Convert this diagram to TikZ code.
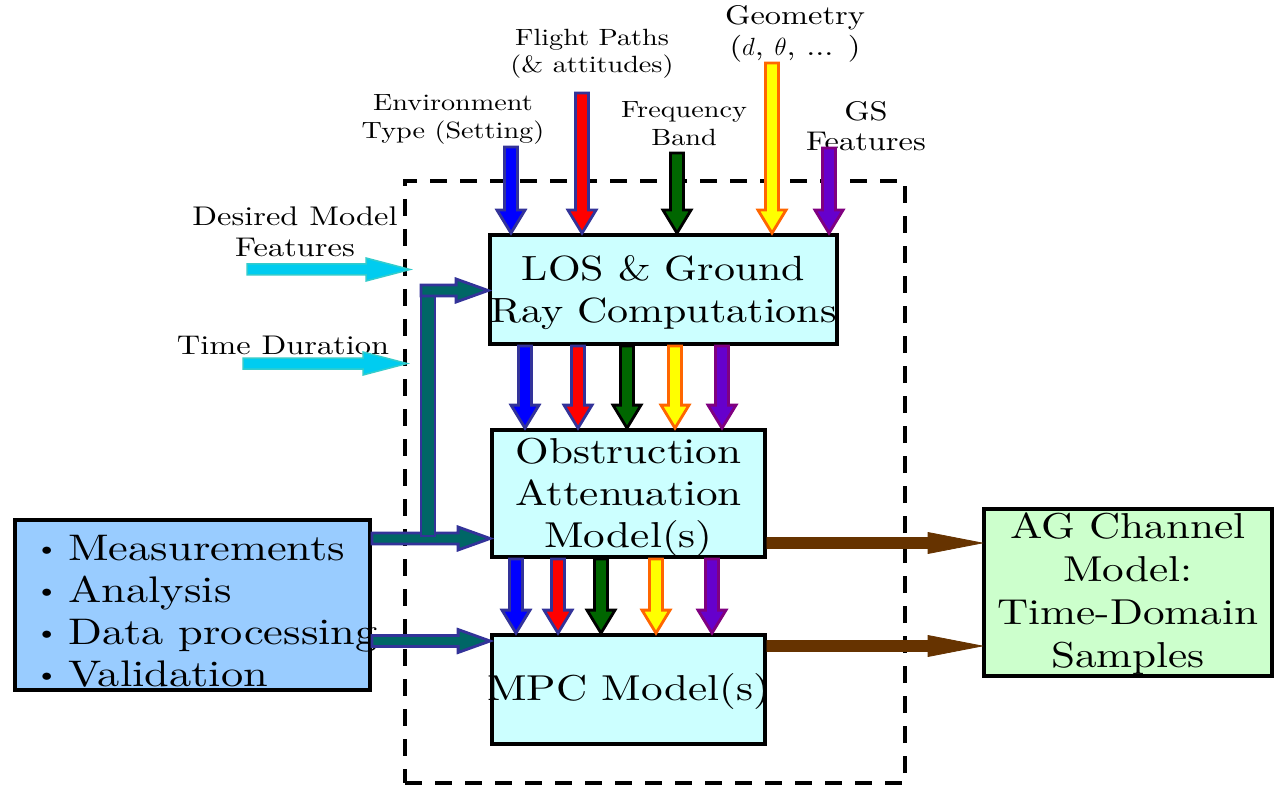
\documentclass[tikz,border=0pt]{standalone}
\usepackage{fontspec}
\setmainfont{lmroman10-regular.otf}[FakeStretch=1.2, ItalicFont=lmroman10-italic.otf]
\usetikzlibrary{calc}
\definecolor{navyb}{HTML}{333399}
\definecolor{boxcyan}{HTML}{CCFFFF}
\definecolor{boxblue}{HTML}{99CCFF}
\definecolor{boxgreen}{HTML}{CCFFCC}
\definecolor{arrblue}{HTML}{0000FF}
\definecolor{arrred}{HTML}{FF0000}
\definecolor{arrgreen}{HTML}{006600}
\definecolor{arryellow}{HTML}{FFFF00}
\definecolor{arrorange}{HTML}{FF6600}
\definecolor{arrpurple}{HTML}{6600CC}
\definecolor{arrpurpleb}{HTML}{800080}
\definecolor{arrcyan}{HTML}{00CCF0}
\definecolor{arrcyanb}{HTML}{33CCCC}
\definecolor{arrteal}{HTML}{006666}
\definecolor{arrbrown}{HTML}{663300}
\newcommand{\mybul}{\makebox[33pt][l]{\raisebox{4pt}{\fontsize{25}{25}\selectfont\textbullet}}}
\tikzset{
  blockarrow/.style n args={3}{line join=miter, to path={
    let \p1=(\tikztostart), \p2=(\tikztotarget), \n1={atan2(\y2-\y1,\x2-\x1)} in
    ($(\p1)+(\n1+90:#1)$) -- ($(\p2)+(\n1+180:#3)+(\n1+90:#1)$)
    -- ($(\p2)+(\n1+180:#3)+(\n1+90:#2)$) -- (\p2)
    -- ($(\p2)+(\n1+180:#3)+(\n1-90:#2)$) -- ($(\p2)+(\n1+180:#3)+(\n1-90:#1)$)
    -- ($(\p1)+(\n1-90:#1)$) -- cycle}},
  toparr/.style 2 args={blockarrow={6.5}{14}{23}, fill=#1, draw=#2, line width=2.8pt},
  cyanarr/.style={blockarrow={5.5}{11.5}{44}, fill=arrcyan, draw=arrcyanb, line width=1.5pt},
  tealarr/.style={blockarrow={5.5}{11.5}{32}, fill=arrteal, draw=navyb, line width=2.8pt},
  brownarr/.style={blockarrow={5.5}{10.5}{54}, fill=arrbrown, draw=arrbrown, line width=0.8pt},
  box/.style={draw=black, line width=3.8pt, fill=boxcyan, inner sep=0pt},
  boxtxt/.style={inner sep=0pt, align=center, font=\fontsize{36}{42}\selectfont},
  frame/.style={draw=black, line width=4pt, dash pattern=on 17pt off 13pt, inner sep=0pt,
    minimum width=500, minimum height=602},
  lbl/.style={inner sep=0pt, align=center, font=\fontsize{23.5}{27.5}\selectfont},
  lblbig/.style={inner sep=0pt, align=center, font=\fontsize{27}{30.5}\selectfont},
  bar/.style={fill=arrteal, draw=navyb, line width=2.8pt}
}
\begin{document}
\begin{tikzpicture}[x=1pt,y=1pt]
\useasboundingbox (0,0) rectangle (1276,-791);
\fill[white] (0,0) rectangle (1276,-791);

% dashed frame
\node[frame] (grp) at (655,-482) {};

% boxes
\node[box, minimum width=347, minimum height=109] (los) at (663.5,-289.5) {};
\node[boxtxt, font=\fontsize{35}{42}\selectfont] (losT) at ($(los.center)+(0,-3)$) {LOS \& Ground\\Ray Computations};
\node[box, minimum width=273, minimum height=127] (obs) at (628.5,-493.5) {};
\node[boxtxt] (obsT) at ($(obs.center)+(0,-4)$) {Obstruction\\Attenuation\\Model(s)};
\node[box, minimum width=273, minimum height=109] (mpc) at (628.5,-689.5) {};
\node[boxtxt] (mpcT) at ($(mpc.center)+(0,-2)$) {MPC Model(s)};
\node[box, fill=boxblue, minimum width=355, minimum height=170] (lb) at (192.5,-605) {};
\node[anchor=west, inner sep=0pt, align=left, font=\fontsize{37}{42}\selectfont] (lbt) at (35,-611)
  {\mybul Measurements\\\mybul Analysis\\\mybul Data processing\\\mybul Validation};
\node[box, fill=boxgreen, minimum width=288, minimum height=167] (ag) at (1128,-592.5) {};
\node[boxtxt, font=\fontsize{36}{43}\selectfont] (agT) at ($(ag.center)+(0,-1)$) {AG Channel\\Model:\\Time-Domain\\Samples};

% labels
\node[lbl] (env) at (453,-119.5) {Environment\\Type (Setting)};
\node[lbl] (fl) at (592,-54) {Flight Paths\\(\& attitudes)};
\node[lbl] (fq) at (684,-123.5) {Frequency\\Band};
\node[lblbig] (geo) at (795,-34) {Geometry\\($d$, $\theta$, ... )};
\node[lblbig] (gsf) at (866,-126) {GS\\Features};
\node[lblbig] (dmf) at (295,-232) {Desired Model\\Features};
\node[lblbig] (tdur) at (283,-345) {Time Duration};

% coordinates
\coordinate (envS) at (511,-147);
\coordinate (flS) at (582,-93);
\coordinate (fqS) at (677,-153);
\coordinate (geoS) at (772,-63);
\coordinate (gsS) at (829,-148);
\coordinate (m1) at (525,0);
\coordinate (m2) at (578,0);
\coordinate (m3) at (627,0);
\coordinate (m4) at (675,0);
\coordinate (m5) at (722,0);
\coordinate (n1) at (516,0);
\coordinate (n2) at (558,0);
\coordinate (n3) at (601,0);
\coordinate (n4) at (656,0);
\coordinate (n5) at (712,0);
\coordinate (dmS) at (247,-269.5);
\coordinate (dmE) at (410,-269.5);
\coordinate (tdS) at (243,-363.5);
\coordinate (tdE) at (407,-363.5);
\coordinate (barT) at (421,-285);
\coordinate (barB) at (435,-536);
\coordinate (tealUp) at (421,-290.5);
\coordinate (tealLow) at (0,-538.5);
\coordinate (tealDP) at (0,-641);
\coordinate (brA) at (0,-543);
\coordinate (brB) at (0,-646);

% teal arrows
\draw[tealarr] (tealLow -| lb.east) to (tealLow -| obs.west);
\draw[tealarr] (tealDP -| lb.east) to (tealDP -| mpc.west);
\draw[bar] (barT) rectangle (barB);
\draw[tealarr] (tealUp) to (tealUp -| los.west);

% cyan arrows
\draw[cyanarr] (dmS) to (dmE);
\draw[cyanarr] (tdS) to (tdE);

% top input arrows
\draw[toparr={arrblue}{navyb}] (envS) to (envS |- los.north);
\draw[toparr={arrred}{navyb}] (flS) to (flS |- los.north);
\draw[toparr={arrgreen}{black}] (fqS) to (fqS |- los.north);
\draw[toparr={arryellow}{arrorange}] (geoS) to (geoS |- los.north);
\draw[toparr={arrpurple}{arrpurpleb}] (gsS) to (gsS |- los.north);

% LOS -> obstruction
\draw[toparr={arrblue}{navyb}] (m1 |- los.south) to (m1 |- obs.north);
\draw[toparr={arrred}{navyb}] (m2 |- los.south) to (m2 |- obs.north);
\draw[toparr={arrgreen}{black}] (m3 |- los.south) to (m3 |- obs.north);
\draw[toparr={arryellow}{arrorange}] (m4 |- los.south) to (m4 |- obs.north);
\draw[toparr={arrpurple}{arrpurpleb}] (m5 |- los.south) to (m5 |- obs.north);

% obstruction -> MPC
\draw[toparr={arrblue}{navyb}] (n1 |- obs.south) to (n1 |- mpc.north);
\draw[toparr={arrred}{navyb}] (n2 |- obs.south) to (n2 |- mpc.north);
\draw[toparr={arrgreen}{black}] (n3 |- obs.south) to (n3 |- mpc.north);
\draw[toparr={arryellow}{arrorange}] (n4 |- obs.south) to (n4 |- mpc.north);
\draw[toparr={arrpurple}{arrpurpleb}] (n5 |- obs.south) to (n5 |- mpc.north);

% outputs
\draw[brownarr] (brA -| obs.east) to (brA -| ag.west);
\draw[brownarr] (brB -| mpc.east) to (brB -| ag.west);
\end{tikzpicture}
\end{document}
